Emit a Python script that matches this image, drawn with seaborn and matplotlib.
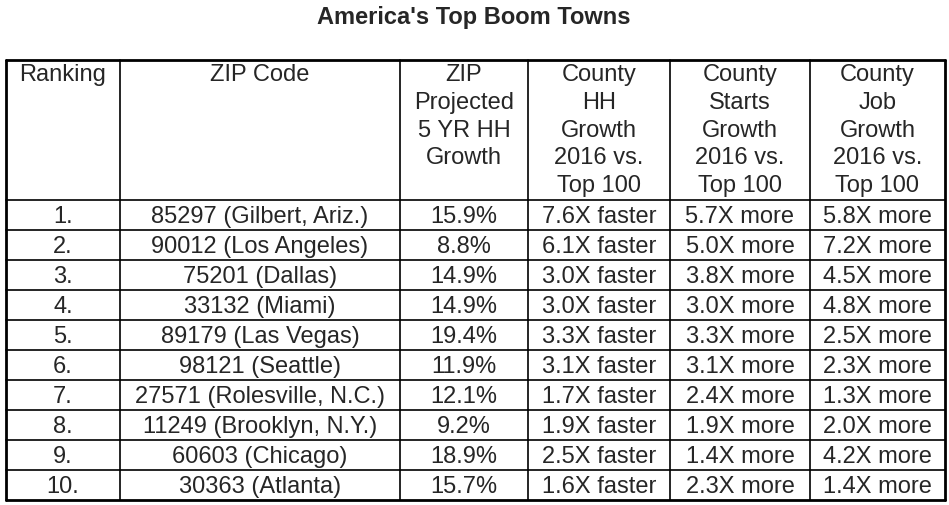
import matplotlib
matplotlib.use("Agg")
import matplotlib.pyplot as plt
import seaborn as sns

sns.set_style("white")
plt.rcParams['font.family'] = ['Liberation Sans', 'DejaVu Sans']

title = "America's Top Boom Towns"
headers = ["Ranking", "ZIP Code", "ZIP\nProjected\n5 YR HH\nGrowth",
           "County\nHH\nGrowth\n2016 vs.\nTop 100", "County\nStarts\nGrowth\n2016 vs.\nTop 100",
           "County\nJob\nGrowth\n2016 vs.\nTop 100"]
rankings = ["1.", "2.", "3.", "4.", "5.", "6.", "7.", "8.", "9.", "10."]
zips = ["85297 (Gilbert, Ariz.)", "90012 (Los Angeles)", "75201 (Dallas)", "33132 (Miami)",
        "89179 (Las Vegas)", "98121 (Seattle)", "27571 (Rolesville, N.C.)",
        "11249 (Brooklyn, N.Y.)", "60603 (Chicago)", "30363 (Atlanta)"]
zip_growth = ["15.9%", "8.8%", "14.9%", "14.9%", "19.4%", "11.9%", "12.1%", "9.2%", "18.9%", "15.7%"]
hh_growth = ["7.6X faster", "6.1X faster", "3.0X faster", "3.0X faster", "3.3X faster",
             "3.1X faster", "1.7X faster", "1.9X faster", "2.5X faster", "1.6X faster"]
starts_growth = ["5.7X more", "5.0X more", "3.8X more", "3.0X more", "3.3X more",
                 "3.1X more", "2.4X more", "1.9X more", "1.4X more", "2.3X more"]
job_growth = ["5.8X more", "7.2X more", "4.5X more", "4.8X more", "2.5X more",
              "2.3X more", "1.3X more", "2.0X more", "4.2X more", "1.4X more"]

cols = [rankings, zips, zip_growth, hh_growth, starts_growth, job_growth]
xb = [6, 120, 400, 528, 670, 810, 945]
top, head_bot, row_h = 61, 201, 30

fig = plt.figure(figsize=(9.49, 5.06), dpi=100)
ax = fig.add_axes([0, 0, 1, 1])
ax.set_xlim(0, 949); ax.set_ylim(506, 0); ax.axis('off')

ax.text(474, 17, title, ha='center', va='center', fontsize=17, fontweight='bold',
        family=['Liberation Sans', 'DejaVu Sans'])

bottom = head_bot + row_h * len(rankings)
for i, x in enumerate(xb):
    ax.plot([x, x], [top, bottom], color='black', lw=2 if i in (0, len(xb)-1) else 1.2)
ax.plot([xb[0], xb[-1]], [top, top], color='black', lw=2)
ax.plot([xb[0], xb[-1]], [bottom, bottom], color='black', lw=2)
for r in range(len(rankings)):
    y = head_bot + r * row_h
    ax.plot([xb[0], xb[-1]], [y, y], color='black', lw=1.2)

fs = 17
for j, h in enumerate(headers):
    cx = (xb[j] + xb[j+1]) / 2
    ax.text(cx, top + 3, h, ha='center', va='top', fontsize=fs, linespacing=1.34)
    for r, v in enumerate(cols[j]):
        ax.text(cx, head_bot + r * row_h + row_h / 2 + 1, v, ha='center', va='center', fontsize=fs)

fig.savefig("out.png", dpi=100, facecolor='white')
